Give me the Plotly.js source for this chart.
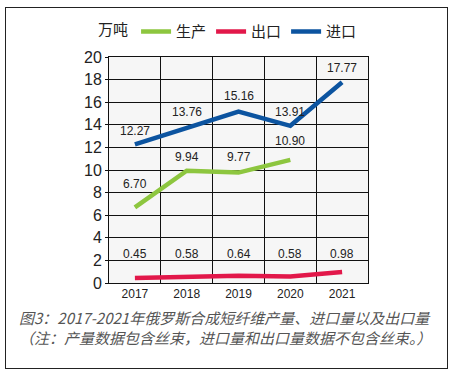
<!DOCTYPE html>
<html>
<head>
<meta charset="utf-8">
<script src="https://cdn.plot.ly/plotly-3.0.1.min.js"></script>
<style>
html,body{margin:0;padding:0;background:#fff;}
#wrap{position:relative;width:460px;height:377px;}
#chart{position:absolute;left:0;top:0;width:460px;height:377px;}
#frame{position:absolute;left:5px;top:7px;width:441px;height:360px;border:1.5px solid #222;pointer-events:none;}
</style>
</head>
<body>
<div id="wrap"><div id="chart"></div><div id="frame"></div></div>
<script>
// ---- data ----
const years = ['2017', '2018', '2019', '2020', '2021'];
const productionYears = ['2017', '2018', '2019', '2020'];
const production = [6.70, 9.94, 9.77, 10.90];
const exportVals = [0.45, 0.58, 0.64, 0.58, 0.98];
const imports = [12.27, 13.76, 15.16, 13.91, 17.77];
const seriesNames = ['生产', '出口', '进口'];
const unitLabel = '万吨';
const captionLine1 = '图3：2017-2021年俄罗斯合成短纤维产量、进口量以及出口量';
const captionLine2 = '（注：产量数据包含丝束，进口量和出口量数据不包含丝束。）';

// ---- styles ----
const green = 'rgb(141,198,63)';
const red = 'rgb(226,24,74)';
const blue = 'rgb(12,84,160)';
const numFont = 'Liberation Sans, Arial, sans-serif';
const cjkFont = 'Noto Sans CJK SC, Liberation Sans, sans-serif';
const labelFont = {family: numFont, size: 12, color: '#222'};
const prodShift = [23, 14, 16, 19];
const impShift = [13, 16, 16, 14, 14];
const exportLabelRow = 2.6;

const traces = [
  {x: productionYears, y: production, name: seriesNames[0], mode: 'lines', line: {color: green, width: 4.5}},
  {x: years, y: exportVals, name: seriesNames[1], mode: 'lines', line: {color: red, width: 4.5}},
  {x: years, y: imports, name: seriesNames[2], mode: 'lines', line: {color: blue, width: 4.5}}
];

const annotations = [];
production.forEach((v, i) => annotations.push({
  x: years.indexOf(productionYears[i]), y: v, xref: 'x', yref: 'y', text: v.toFixed(2),
  showarrow: false, yshift: prodShift[i], font: Object.assign({}, labelFont)
}));
imports.forEach((v, i) => annotations.push({
  x: i, y: v, xref: 'x', yref: 'y', text: v.toFixed(2),
  showarrow: false, yshift: impShift[i], font: Object.assign({}, labelFont)
}));
exportVals.forEach((v, i) => annotations.push({
  x: i, y: exportLabelRow, xref: 'x', yref: 'y', text: v.toFixed(2),
  showarrow: false, font: Object.assign({}, labelFont)
}));
annotations.push({
  xref: 'paper', yref: 'paper', x: 0.448, y: -0.21, text: '<i>' + captionLine1 + '</i>',
  showarrow: false, font: {family: cjkFont, size: 15, color: '#555'}
});
annotations.push({
  xref: 'paper', yref: 'paper', x: 0.448, y: -0.295, text: '<i>' + captionLine2 + '</i>',
  showarrow: false, font: {family: cjkFont, size: 15, color: '#555'}
});

const layout = {
  width: 460, height: 377,
  margin: {l: 109, r: 92, t: 57, b: 94, pad: 0},
  paper_bgcolor: '#fff',
  plot_bgcolor: '#f6f6f6',
  showlegend: true,
  legend: {
    orientation: 'h', x: -0.05, xanchor: 'left', y: 1.185, yanchor: 'top',
    title: {text: unitLabel, side: 'left', font: {family: cjkFont, size: 15, color: '#222'}},
    font: {family: cjkFont, size: 15, color: '#222'},
    itemwidth: 30, tracegroupgap: 0, bgcolor: 'rgba(0,0,0,0)'
  },
  xaxis: {
    type: 'category', categoryorder: 'array', categoryarray: years,
    range: [-0.5, 4.5], tickson: 'boundaries', ticks: '',
    showgrid: true, gridcolor: '#111', gridwidth: 1,
    showline: true, linecolor: '#111', linewidth: 1, mirror: true,
    tickfont: {family: numFont, size: 12, color: '#222'}, fixedrange: true
  },
  yaxis: {
    range: [0, 20], dtick: 2, tick0: 0,
    showgrid: true, gridcolor: '#111', gridwidth: 1,
    showline: true, linecolor: '#111', linewidth: 1, mirror: true,
    ticks: 'outside', ticklen: 3, tickcolor: '#111', zeroline: false,
    tickfont: {family: numFont, size: 16, color: '#222'}, fixedrange: true
  },
  annotations: annotations
};

Plotly.newPlot('chart', traces, layout, {displayModeBar: false, staticPlot: true});
</script>
</body>
</html>
